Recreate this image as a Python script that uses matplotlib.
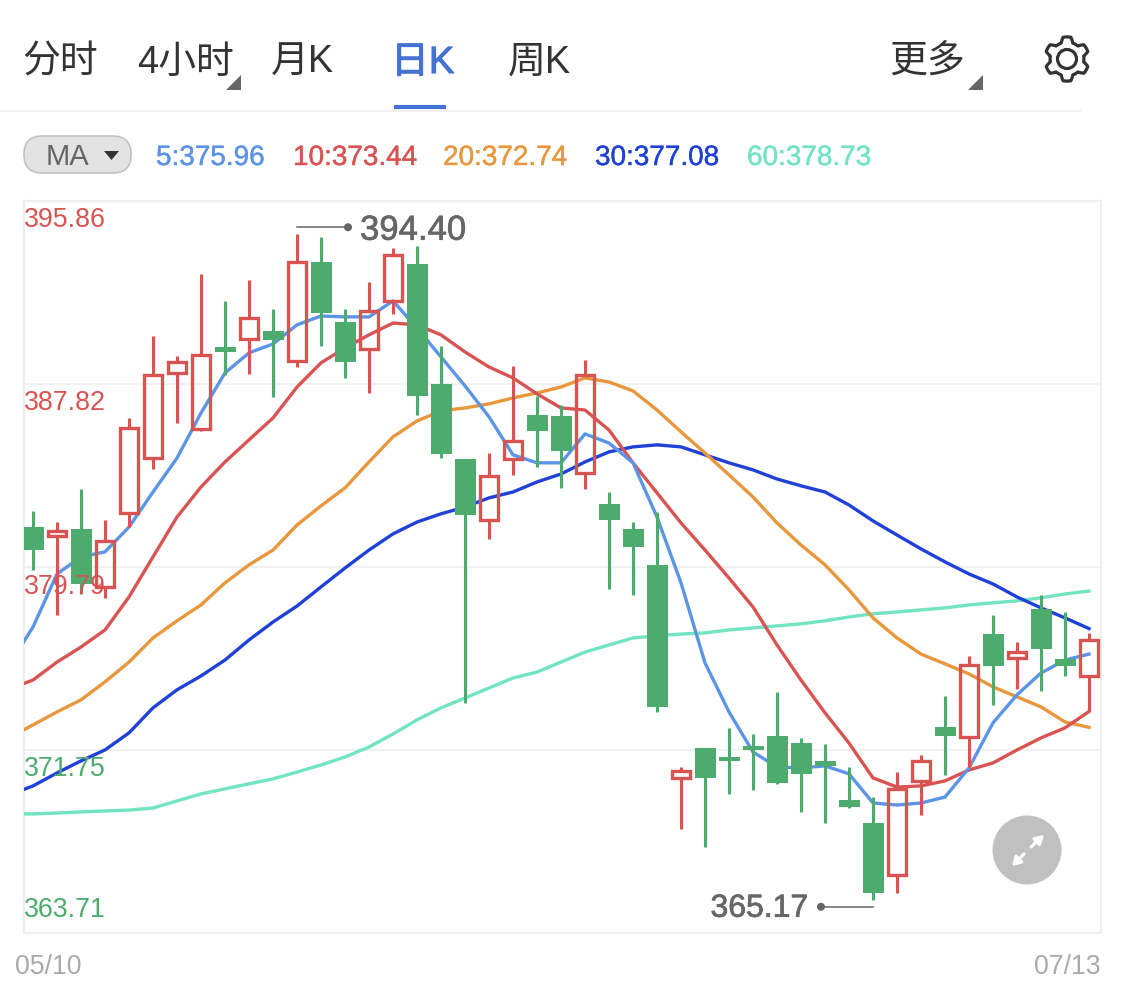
import numpy as np
import matplotlib
matplotlib.use("Agg")
import matplotlib.pyplot as plt
import matplotlib.patheffects as pe
from matplotlib.patches import Circle, FancyBboxPatch, Polygon

plt.rcParams['font.family'] = ['Liberation Sans', 'Noto Sans CJK SC', 'DejaVu Sans']

# daily candles
opens = [381.54, 381.15, 381.46, 378.91, 382.16, 384.57, 388.30, 385.84, 389.45, 389.80, 390.15, 388.83,
         393.17, 390.54, 389.36, 391.47, 393.09, 387.82, 384.53, 381.85, 384.53, 386.46, 386.42, 383.91,
         382.55, 381.46, 379.87, 370.51, 371.83, 371.44, 371.92, 372.36, 372.05, 371.26, 369.55, 368.54,
         366.26, 370.38, 372.75, 372.32, 376.84, 375.79, 377.94, 375.74, 374.99]
closes = [380.53, 381.37, 379.04, 380.93, 385.89, 388.22, 388.79, 389.10, 389.23, 390.72, 389.75, 393.17,
          390.94, 388.79, 391.03, 393.48, 387.30, 384.75, 382.07, 383.78, 385.32, 385.75, 384.88, 388.22,
          381.85, 380.67, 373.64, 370.82, 370.51, 371.26, 371.74, 370.30, 370.69, 371.04, 369.24, 365.47,
          370.03, 371.26, 372.36, 375.48, 375.43, 376.05, 376.18, 375.43, 376.58]
highs = [382.25, 381.76, 383.21, 381.85, 386.33, 389.93, 389.05, 392.65, 391.47, 392.39, 391.11, 394.40,
         394.27, 391.11, 392.30, 393.79, 393.88, 389.49, 384.53, 384.79, 388.61, 387.30, 386.90, 388.88,
         383.08, 381.76, 382.20, 370.99, 371.83, 372.71, 372.45, 374.29, 372.27, 372.01, 370.99, 369.68,
         370.78, 371.52, 374.12, 375.87, 377.67, 376.49, 378.55, 377.81, 376.89]
lows = [379.65, 377.67, 378.60, 378.42, 381.54, 384.09, 386.11, 385.75, 388.22, 388.26, 387.25, 388.57,
        389.49, 388.09, 387.43, 390.89, 386.46, 384.57, 373.81, 381.01, 383.82, 384.18, 383.25, 383.21,
        378.82, 378.55, 373.42, 368.28, 367.49, 369.81, 369.99, 370.25, 369.02, 368.54, 369.20, 365.17,
        365.47, 368.89, 370.65, 370.99, 373.72, 374.43, 374.34, 374.99, 373.46]

# moving averages, first value is the day before the left edge
ma5 = [375.48, 377.15, 379.48, 380.23, 380.45, 381.54, 383.08, 384.57, 386.55, 388.31, 389.19, 389.58,
       390.42, 390.81, 390.77, 390.77, 391.47, 390.28, 389.01, 387.74, 386.38, 384.71, 384.36, 384.36,
       385.63, 385.23, 384.36, 381.98, 379.09, 375.57, 373.42, 371.66, 371.00, 370.96, 371.05, 370.70,
       369.42, 369.33, 369.42, 369.68, 370.96, 372.94, 374.17, 375.13, 375.70, 375.96]
ma10 = [374.43, 374.82, 375.61, 376.27, 377.02, 378.47, 380.23, 381.98, 383.30, 384.40, 385.37, 386.33,
        387.69, 388.75, 389.41, 389.98, 390.50, 390.42, 389.98, 389.23, 388.57, 388.09, 387.39, 386.77,
        386.68, 385.80, 384.36, 383.04, 381.72, 380.53, 379.30, 378.03, 376.36, 374.82, 373.38, 372.05,
        370.52, 370.12, 370.17, 370.39, 370.87, 371.18, 371.75, 372.28, 372.72, 373.44]
ma20 = [372.28, 372.85, 373.42, 373.95, 374.74, 375.61, 376.67, 377.42, 378.12, 379.09, 379.88, 380.53,
        381.63, 382.47, 383.26, 384.40, 385.50, 386.20, 386.64, 386.77, 386.95, 387.21, 387.43, 387.69,
        388.09, 387.91, 387.52, 386.68, 385.72, 384.79, 383.83, 382.86, 381.72, 380.75, 379.88, 378.78,
        377.55, 376.67, 375.96, 375.53, 375.09, 374.52, 374.08, 373.64, 372.98, 372.74]
ma30 = [369.77, 370.17, 370.74, 371.27, 371.75, 372.50, 373.60, 374.39, 375.00, 375.70, 376.58, 377.37,
        378.07, 378.91, 379.74, 380.53, 381.24, 381.76, 382.12, 382.42, 382.82, 383.08, 383.52, 383.87,
        384.40, 384.84, 385.06, 385.15, 385.06, 384.71, 384.36, 384.05, 383.65, 383.35, 383.08, 382.51,
        381.81, 381.19, 380.58, 380.01, 379.48, 379.04, 378.47, 377.99, 377.55, 377.08]
ma60 = [368.94, 368.94, 368.98, 369.03, 369.07, 369.11, 369.20, 369.51, 369.82, 370.04, 370.26, 370.48,
        370.78, 371.09, 371.44, 371.88, 372.45, 373.07, 373.60, 374.03, 374.47, 374.91, 375.17, 375.61,
        376.05, 376.36, 376.67, 376.76, 376.84, 376.89, 377.02, 377.11, 377.20, 377.29, 377.42, 377.59,
        377.73, 377.81, 377.90, 377.99, 378.12, 378.21, 378.30, 378.43, 378.60, 378.73]

price_levels = [395.86, 387.82, 379.79, 371.75, 363.71]
dates = ["05/10", "07/13"]
tabs = ["分时", "4小时", "月K", "日K", "周K", "更多"]
ma_names = ["5", "10", "20", "30", "60"]

RED = "#d95353"
GREEN = "#4dab6e"
GREY = "#666666"
MA_COLORS = ["#5c94e6", "#d95353", "#e8973c", "#1f41d8", "#72e4c1"]
W, H = 1125, 991

opens, closes, highs, lows = map(np.array, (opens, closes, highs, lows))
x = np.arange(len(opens))
up = closes >= opens

fig = plt.figure(figsize=(W / 100, H / 100), dpi=100, facecolor="white")

# ---- price chart ----
L, R, T, B = 24, 1101, 201, 933
ax = fig.add_axes([L / W, 1 - B / H, (R - L) / W, (B - T) / H])
ax.set_xlim(-0.375, 44.5)
ax.set_ylim(price_levels[-1], price_levels[0])
ax.set_xticks([])
ax.set_yticks(price_levels[1:-1])
ax.tick_params(left=False, labelleft=False)
ax.grid(axis="y", color="#f1f1f1", lw=1.5)
ax.set_axisbelow(True)
for s in ax.spines.values():
    s.set_color("#eeeeee")
    s.set_linewidth(1.5)

ma_x = np.arange(-1, len(opens))
for vals, c in zip([ma60, ma30, ma20, ma10, ma5], MA_COLORS[::-1]):
    ax.plot(ma_x, vals, color=c, lw=2.4, zorder=3, solid_joinstyle="round")

# green candles are solid, red ones are hollow and the MA lines show through
ax.vlines(x[~up], lows[~up], highs[~up], color=GREEN, lw=2.2, zorder=4)
ax.bar(x[~up], np.maximum(opens[~up] - closes[~up], 0.05), bottom=closes[~up], width=0.875,
       color=GREEN, zorder=5)
ax.vlines(x[up], closes[up], highs[up], color=RED, lw=2.2, zorder=4)
ax.vlines(x[up], lows[up], opens[up], color=RED, lw=2.2, zorder=4)
ax.bar(x[up], closes[up] - opens[up], bottom=opens[up], width=0.73, facecolor="none",
       edgecolor=RED, lw=2.4, zorder=5)

# ---- everything drawn in screen pixels on top ----
ui = fig.add_axes([0, 0, 1, 1], zorder=5)
ui.set_xlim(0, W)
ui.set_ylim(H, 0)
ui.axis("off")
ui.patch.set_alpha(0)

tab_x = [22, 137, 271, 391, 508, 889]
for name, tx in zip(tabs, tab_x):
    active = name == "日K"
    c = "#4472d2" if active else "#333333"
    ui.text(tx, 63, name, fontsize=27.3, color=c, ha="left", va="center",
            path_effects=[pe.withStroke(linewidth=0.8, foreground=c)] if active else None)
for tx in [241, 983]:
    ui.add_patch(Polygon([[tx, 75], [tx, 90], [tx - 15, 90]], color=GREY, lw=0))
ui.plot([394, 446], [107, 107], color="#4472d2", lw=3, solid_capstyle="butt")
ui.plot([0, 1080], [110.5, 110.5], color="#f1f1f1", lw=1.5)

# gear icon
theta = np.linspace(0, 2 * np.pi, 361)
rad = 19.5 + 2.6 * np.clip(2.0 * np.cos(6 * (theta - np.pi / 2)), -1, 1)
ui.add_patch(Polygon(np.c_[1067 + rad * np.cos(theta), 59 + rad * np.sin(theta)], closed=True,
                     fill=False, ec="#333333", lw=2.3, joinstyle="round"))
ui.add_patch(Circle((1067, 59), 9.5, fill=False, ec="#333333", lw=2.3))

# MA selector and values
ui.add_patch(FancyBboxPatch((24, 136), 107, 37, boxstyle="round,pad=0,rounding_size=18",
                            fc="#e3e3e3", ec="#c2c2c2", lw=1.2))
ui.text(46, 157, "MA", fontsize=21, color=GREY, ha="left", va="center")
ui.add_patch(Polygon([[104, 151], [119, 151], [111.5, 160]], color="#333333", lw=0))
ma_x_txt = [156, 293, 443, 595, 747]
for name, vals, c, tx in zip(ma_names, [ma5, ma10, ma20, ma30, ma60], MA_COLORS, ma_x_txt):
    ui.text(tx, 158, f"{name}:{vals[-1]:.2f}", fontsize=20.1, color=c, ha="left", va="center",
            path_effects=[pe.withStroke(linewidth=0.3, foreground=c)])

# price labels sit inside the chart
label_y = [220, 403, 587, 769, 910]
for lv, ly, c in zip(price_levels, label_y, [RED, RED, RED, GREEN, GREEN]):
    ui.text(24, ly, f"{lv:.2f}", fontsize=19.3, color=c, ha="left", va="center")
ui.text(15, 967, dates[0], fontsize=19.3, color="#aaaaaa", ha="left", va="center")
ui.text(1101, 967, dates[1], fontsize=19.3, color="#aaaaaa", ha="right", va="center")


def to_px(i, price):
    px, py = ax.transData.transform((i, price))
    return px, H - py


# high / low markers
hi = int(np.argmax(highs))
lo = int(np.argmin(lows))
hx, hy = to_px(hi, highs[hi])
lx, ly = to_px(lo, lows[lo])
bold = [pe.withStroke(linewidth=0.5, foreground=GREY)]
ui.plot([hx, hx + 48], [hy - 7, hy - 7], color=GREY, lw=1.1)
ui.add_patch(Circle((hx + 51, hy - 7), 4, color=GREY, lw=0))
ui.text(hx + 63, hy - 4, f"{highs[hi]:.2f}", fontsize=25, color=GREY, ha="left", va="center",
        path_effects=bold)
ui.plot([lx - 48, lx], [ly + 7, ly + 7], color=GREY, lw=1.1)
ui.add_patch(Circle((lx - 52, ly + 7), 4, color=GREY, lw=0))
ui.text(lx - 65, ly + 9, f"{lows[lo]:.2f}", fontsize=23, color=GREY, ha="right", va="center",
        path_effects=bold)

# expand button
ui.add_patch(Circle((1027, 850), 34.5, color="#c0c0c0", lw=0))
ui.annotate("", xy=(1044, 835), xytext=(1031, 847),
            arrowprops=dict(arrowstyle="-|>,head_width=0.3,head_length=0.5", color="white", lw=2.2,
                            shrinkA=0, shrinkB=0))
ui.annotate("", xy=(1012, 866), xytext=(1024, 854),
            arrowprops=dict(arrowstyle="-|>,head_width=0.3,head_length=0.5", color="white", lw=2.2,
                            shrinkA=0, shrinkB=0))

fig.savefig("out.png", dpi=100, facecolor="white")
